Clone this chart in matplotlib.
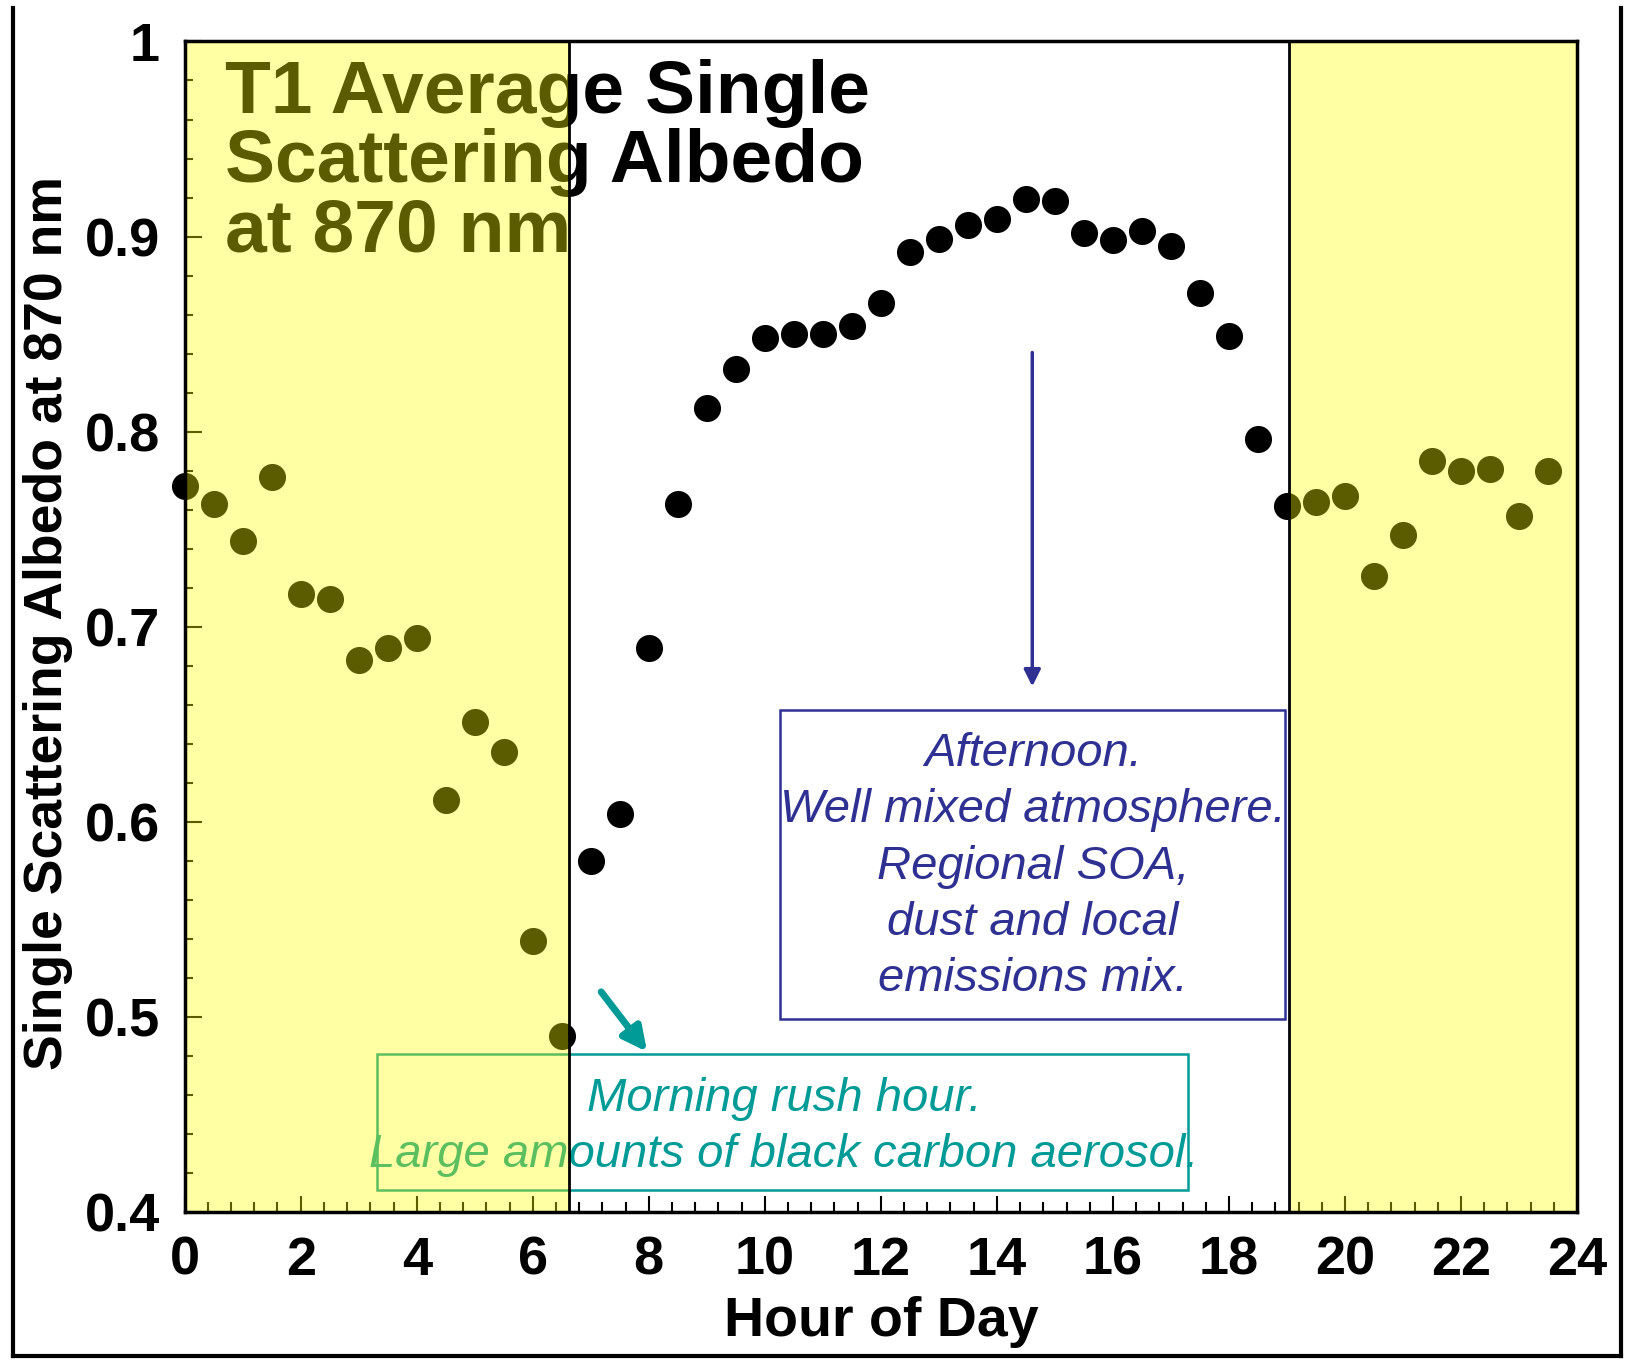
import matplotlib
matplotlib.use("Agg")
import matplotlib.pyplot as plt
from matplotlib.patches import Rectangle
from matplotlib.lines import Line2D
from matplotlib.ticker import MultipleLocator, FuncFormatter

plt.rcParams['font.family'] = ['Liberation Sans', 'DejaVu Sans']

# ---------------------------
# Data
# ---------------------------
hours = [0.0, 0.5, 1.0, 1.5, 2.0, 2.5, 3.0, 3.5, 4.0, 4.5, 5.0, 5.5,
         6.0, 6.5, 7.0, 7.5, 8.0, 8.5, 9.0, 9.5, 10.0, 10.5, 11.0, 11.5,
         12.0, 12.5, 13.0, 13.5, 14.0, 14.5, 15.0, 15.5, 16.0, 16.5, 17.0, 17.5,
         18.0, 18.5, 19.0, 19.5, 20.0, 20.5, 21.0, 21.5, 22.0, 22.5, 23.0, 23.5]
ssa = [0.772, 0.763, 0.744, 0.777, 0.717, 0.714, 0.683, 0.689, 0.694, 0.611, 0.651, 0.636,
       0.539, 0.490, 0.580, 0.604, 0.689, 0.763, 0.812, 0.832, 0.848, 0.850, 0.850, 0.854,
       0.866, 0.892, 0.899, 0.906, 0.909, 0.919, 0.918, 0.902, 0.898, 0.903, 0.895, 0.871,
       0.849, 0.796, 0.762, 0.764, 0.767, 0.726, 0.747, 0.785, 0.780, 0.781, 0.757, 0.780]

# night (shaded) periods
night_start = [0.0, 19.03]
night_end = [6.62, 24.0]

title_txt = "T1 Average Single\nScattering Albedo\nat 870 nm"
afternoon_txt = ("Afternoon.\nWell mixed atmosphere.\nRegional SOA,\n"
                 "dust and local\nemissions mix.")
morning_txt = "Morning rush hour.\nLarge amounts of black carbon aerosol."

NAVY = '#2e3192'
TEAL = '#009b96'

# ---------------------------
# Figure
# ---------------------------
fig = plt.figure(figsize=(16.27, 13.64), dpi=100)
ax = fig.add_axes([0.1135, 0.1114, 0.8558, 0.8582])
ax.set_xlim(0, 24)
ax.set_ylim(0.4, 1.0)

ax.scatter(hours, ssa, s=380, c='black', linewidths=0, zorder=4, clip_on=False)

# yellow night shading drawn over everything (as in the original)
for x0, x1 in zip(night_start, night_end):
    ax.add_patch(Rectangle((x0, 0.4), x1 - x0, 0.6, facecolor='#ffff00',
                           alpha=0.36, edgecolor='none', zorder=10))
    ax.add_patch(Rectangle((x0, 0.4), x1 - x0, 0.6, fill=False,
                           edgecolor='black', lw=2, zorder=11))

ax.text(0.7, 0.991, title_txt, fontsize=54, fontweight='bold',
        ha='left', va='top', linespacing=1.0, zorder=5)

# afternoon annotation
ax.add_patch(Rectangle((10.27, 0.4989), 8.69, 0.1585, fill=False,
                       edgecolor=NAVY, lw=1.8, zorder=5))
ax.text(14.62, 0.577, afternoon_txt, fontsize=34, style='italic', color=NAVY,
        ha='center', va='center', linespacing=1.36, zorder=5)
ax.annotate('', xy=(14.61, 0.668), xytext=(14.61, 0.842),
            arrowprops=dict(arrowstyle='-|>', color=NAVY, lw=2.5,
                            mutation_scale=25), zorder=5)

# morning annotation
ax.add_patch(Rectangle((3.31, 0.4111), 13.98, 0.0698, fill=False,
                       edgecolor=TEAL, lw=1.8, zorder=5))
ax.text(10.33, 0.4437, morning_txt, fontsize=34, style='italic', color=TEAL,
        ha='center', va='center', linespacing=1.36, zorder=5)
ax.annotate('', xy=(8.0, 0.481), xytext=(7.15, 0.514),
            arrowprops=dict(arrowstyle='-|>', color=TEAL, lw=5,
                            mutation_scale=36), zorder=5)

# ---------------------------
# Axes styling
# ---------------------------
for sp in ax.spines.values():
    sp.set_linewidth(2.5)
    sp.set_zorder(12)

ax.xaxis.set_major_locator(MultipleLocator(2))
ax.xaxis.set_minor_locator(MultipleLocator(0.4))
ax.yaxis.set_major_locator(MultipleLocator(0.1))
ax.yaxis.set_minor_locator(MultipleLocator(0.02))
ax.yaxis.set_major_formatter(FuncFormatter(lambda v, _: '1' if abs(v - 1) < 1e-9 else f'{v:.1f}'))

ax.tick_params(axis='both', which='both', direction='in', top=False, right=False)
ax.tick_params(axis='x', which='major', length=11.5, width=1.5, pad=17)
ax.tick_params(axis='x', which='minor', length=7, width=1.5)
ax.tick_params(axis='y', which='major', length=12, width=1.5, pad=18)
ax.tick_params(axis='y', which='minor', length=6, width=1.5)
for lab in ax.get_xticklabels() + ax.get_yticklabels():
    lab.set_fontsize(39)
    lab.set_fontweight('bold')

ax.set_xlabel("Hour of Day", fontsize=40, fontweight='bold')
ax.set_ylabel("Single Scattering Albedo at 870 nm", fontsize=38.5, fontweight='bold')
ax.xaxis.set_label_coords(0.5, -0.072)
ax.yaxis.set_label_coords(-0.080, 0.503)

# outer frame (top edge cut off in the original)
fig.add_artist(Line2D([0.0077, 0.0077], [0.9939, 0.0059], color='black', lw=3))
fig.add_artist(Line2D([0.0077, 0.9963], [0.0059, 0.0059], color='black', lw=3))
fig.add_artist(Line2D([0.9963, 0.9963], [0.9939, 0.0059], color='black', lw=3))

fig.savefig("out.png", dpi=100)
